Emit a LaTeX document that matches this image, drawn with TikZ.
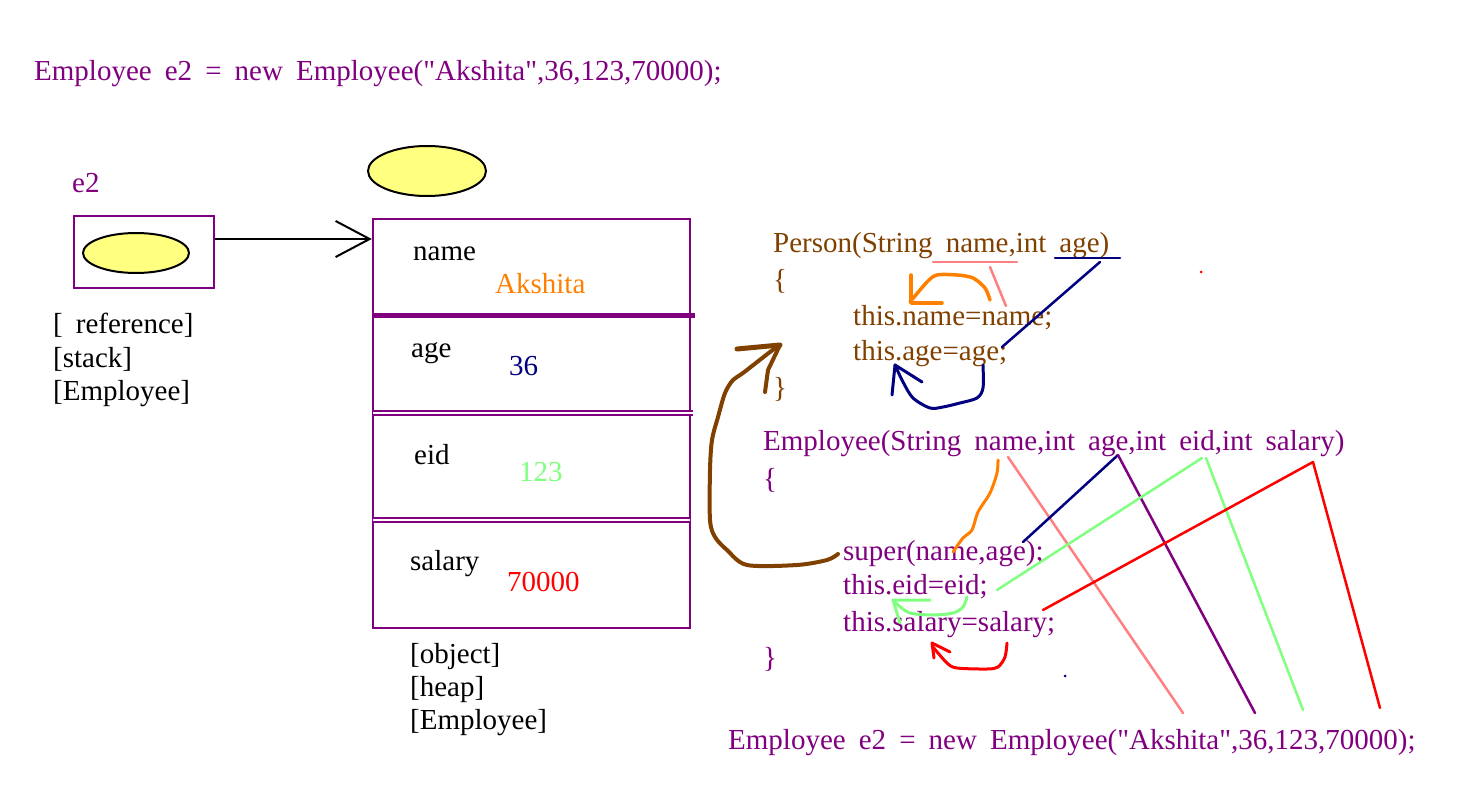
\documentclass[tikz,border=0pt]{standalone}
\usepackage{fontspec}
\setmainfont{Liberation Serif}[WordSpace = 1.8]
\usetikzlibrary{arrows.meta, shapes.geometric}

\definecolor{objpurple}{HTML}{800080}
\definecolor{ctorbrown}{HTML}{804000}
\definecolor{penorange}{HTML}{FF8000}
\definecolor{pennavy}{HTML}{000080}
\definecolor{pengreen}{HTML}{80FF80}
\definecolor{penred}{HTML}{FF0000}
\definecolor{penpink}{HTML}{FF8080}
\definecolor{refyellow}{HTML}{FFFF80}

\begin{document}
\begin{tikzpicture}[x = 1pt, y = -1pt,
        txt/.style = {anchor = base west, inner sep = 0pt, font = \fontsize{29}{35}\selectfont},
        refoval/.style = {ellipse, draw = black, fill = refyellow, line width = 2pt, inner sep = 0pt},
        memcell/.style = {rectangle, draw = objpurple, line width = 2.5pt, inner sep = 0pt},
        pen/.style = {line width = 3pt, line cap = round, line join = round},
        ink/.style = {line width = 2.5pt, line cap = round}]
        \useasboundingbox (0, 0) rectangle (1481, 794);

        \node[txt, objpurple] (topcall) at (34, 81) {Employee e2 = new Employee(\textquotedbl Akshita\textquotedbl,36,123,70000);};

        \node[txt, objpurple] (refname) at (72, 193) {e2};
        \node[memcell, minimum width = 140pt, minimum height = 72pt] (stackbox) at (144, 252) {};
        \node[refoval, minimum width = 106pt, minimum height = 40pt] (stackref) at (136, 253) {};
        \node[txt] (stacklbla) at (53, 334) {[ reference]};
        \node[txt] (stacklblb) at (53, 367) {[stack]};
        \node[txt] (stacklblc) at (53, 400) {[Employee]};

        \node[refoval, minimum width = 118pt, minimum height = 50pt] (heapref) at (427, 171) {};
        \node[memcell, minimum width = 317pt, minimum height = 409pt] (heapbox) at (531.5, 423.5) {};
        \draw[objpurple, line width = 5pt] (373, 316) -- (695, 316);
        \draw[objpurple, double, double distance = 1.5pt, line width = 2pt] (373, 413) -- (693, 413);
        \draw[objpurple, double, double distance = 1.5pt, line width = 2pt] (373, 520) -- (690, 520);

        \coordinate (ptrstart) at ([yshift = 13pt]stackbox.east);
        \draw[line width = 2pt, -{Straight Barb[length = 34pt, width = 36pt, line width = 2pt]}] (ptrstart) -- (ptrstart -| heapbox.west);

        \node[txt] (fname) at (413, 261) {name};
        \node[txt, penorange] (vname) at (495, 294) {Akshita};
        \node[txt] (fage) at (411, 357) {age};
        \node[txt, pennavy] (vage) at (509, 376) {36};
        \node[txt] (feid) at (414, 464) {eid};
        \node[txt, pengreen] (veid) at (519, 481) {123};
        \node[txt] (fsalary) at (410, 570) {salary};
        \node[txt, penred] (vsalary) at (507, 591) {70000};
        \node[txt] (heaplbla) at (410, 663) {[object]};
        \node[txt] (heaplblb) at (410, 696) {[heap]};
        \node[txt] (heaplblc) at (410, 729) {[Employee]};

        \node[txt, ctorbrown] (pctor) at (773, 253) {Person(String name,int age)};
        \node[txt, ctorbrown] (popen) at (773, 290) {\{};
        \node[txt, ctorbrown] (pname) at (853, 326) {this.name=name;};
        \node[txt, ctorbrown] (page) at (853, 361) {this.age=age;};
        \node[txt, ctorbrown] (pclose) at (773, 397) {\}};

        \node[txt, objpurple] (ector) at (763, 450) {Employee(String name,int age,int eid,int salary)};
        \node[txt, objpurple] (eopen) at (763, 488) {\{};
        \node[txt, objpurple] (esuper) at (843, 560) {super(name,age);};
        \node[txt, objpurple] (eeid) at (843, 594) {this.eid=eid;};
        \node[txt, objpurple] (esalary) at (843, 631) {this.salary=salary;};
        \node[txt, objpurple] (eclose) at (763, 667) {\}};
        \node[txt, objpurple] (botcall) at (728, 749) {Employee e2 = new Employee(\textquotedbl Akshita\textquotedbl,36,123,70000);};

        \draw[ink, penpink] (933, 262) -- (1017, 262);
        \draw[ink, penpink] (990, 267) -- (1006, 306);
        \draw[ink, pennavy] (1055, 258) -- (1120, 258);
        \draw[ink, pennavy] (1100, 262) -- (1002, 347);
        \draw[pen, penorange, line width = 3.5pt] plot[smooth] coordinates {(990, 300) (985, 288) (973, 278) (957, 275) (937, 275) (927, 282) (910, 302)};
        \draw[pen, penorange, line width = 3.5pt] (911, 275) -- (911, 303) -- (942, 303);
        \draw[pen, pennavy] plot[smooth] coordinates {(983, 365) (983, 388) (977, 398) (960, 403) (943, 407) (930, 408) (913, 398) (903, 382) (895, 365)};
        \draw[pen, pennavy] (892, 395) -- (895, 365) -- (922, 382);

        \draw[pen, ctorbrown, line width = 4pt] plot[smooth] coordinates {(838, 554) (827, 560) (797, 565) (747, 565) (727, 550) (715, 537) (710, 520) (710, 470) (712, 440) (718, 417) (725, 393) (733, 380) (743, 373) (770, 352) (780, 345)};
        \draw[pen, ctorbrown, line width = 5pt] (737, 349) -- (780, 345);
        \draw[pen, ctorbrown, line width = 4pt] (780, 345) -- (768, 370) -- (765, 392);

        \draw[pen, penorange] plot[smooth] coordinates {(998, 460) (997, 473) (990, 493) (978, 512) (972, 530) (963, 538) (953, 552)};
        \draw[ink, penpink] (1008, 457) -- (1183, 713);
        \draw[ink, pennavy] (1118, 455) -- (1023, 542);
        \draw[ink, objpurple] (1118, 455) -- (1255, 713);
        \draw[ink, pengreen] (1202, 458) -- (997, 590);
        \draw[ink, pengreen] (1206, 458) -- (1303, 710);
        \draw[ink, penred] (1313, 462) -- (1043, 610);
        \draw[ink, penred] (1313, 462) -- (1380, 708);

        \draw[pen, pengreen] plot[smooth] coordinates {(967, 597) (963, 607) (953, 613) (933, 615) (910, 613) (898, 605) (893, 600)};
        \draw[pen, pengreen] (930, 600) -- (893, 600) -- (900, 623);
        \draw[pen, penred] plot[smooth] coordinates {(1007, 643) (1005, 657) (998, 667) (987, 669) (957, 668) (947, 663) (933, 647)};
        \draw[pen, penred] (950, 652) -- (932, 643) -- (934, 658);

        \fill[penred] (1201, 272) circle (1.5pt);
        \fill[pennavy] (1065, 676) circle (1.5pt);
    \end{tikzpicture}
\end{document}
